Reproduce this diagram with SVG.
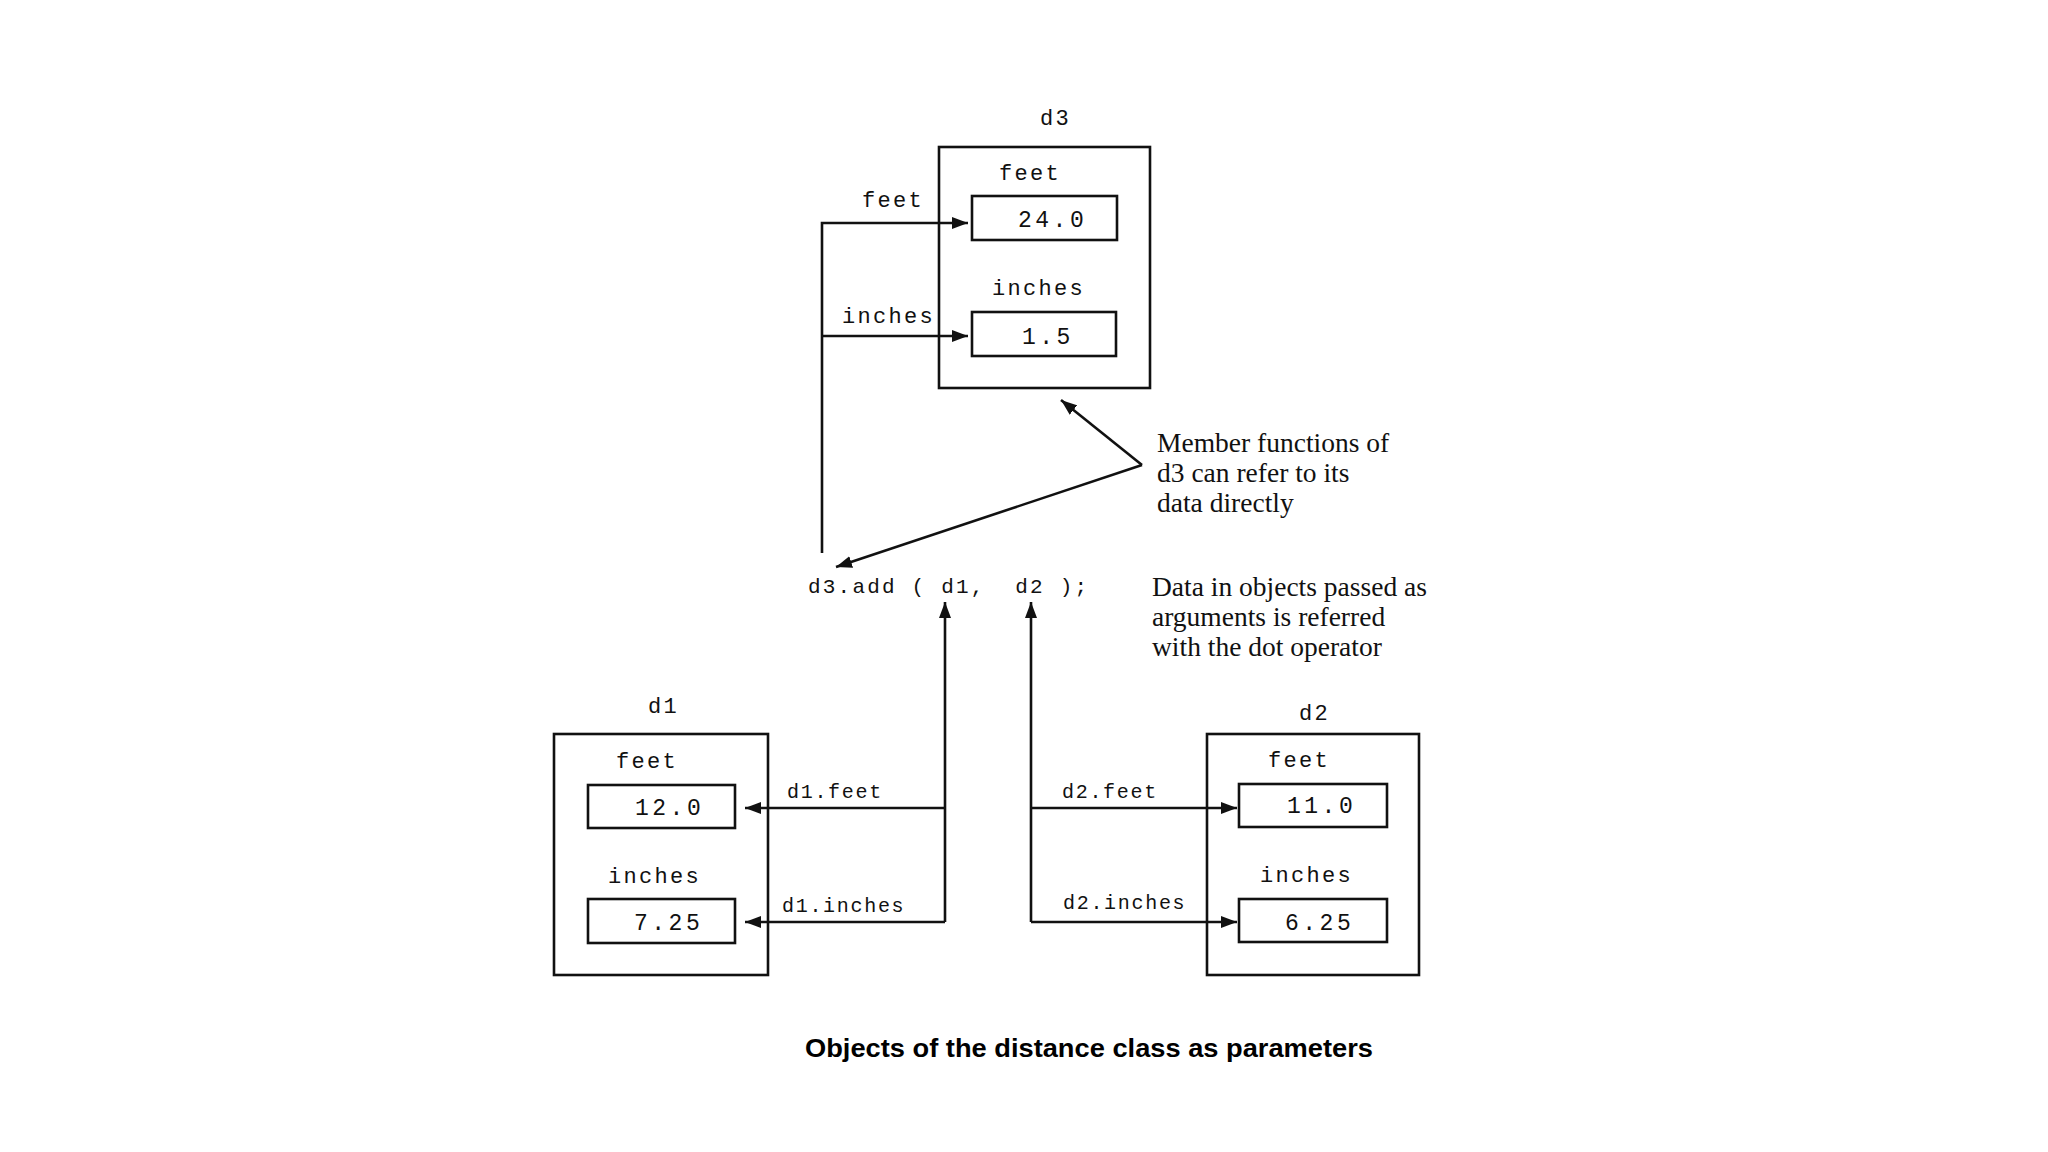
<svg xmlns="http://www.w3.org/2000/svg" width="2048" height="1152" viewBox="0 0 2048 1152">
  <style>
    .box { fill: none; stroke: #111; stroke-width: 2.6; }
    .line { fill: none; stroke: #111; stroke-width: 2.6; }
    .lbl { font-family: "Liberation Mono", "Courier New", monospace; font-size: 22px; letter-spacing: 2.3px; fill: #111; }
    .val { font-family: "Liberation Mono", "Courier New", monospace; font-size: 23px; letter-spacing: 3.5px; fill: #111; }
    .acc { font-family: "Liberation Mono", "Courier New", monospace; font-size: 20px; letter-spacing: 1.7px; fill: #111; }
    .code { font-family: "Liberation Mono", "Courier New", monospace; font-size: 21px; letter-spacing: 2.2px; fill: #111; }
    .note { font-family: "Liberation Serif", "Times New Roman", serif; font-size: 27.5px; fill: #111; }
    .title { font-family: "Liberation Sans", Arial, sans-serif; font-size: 26px; font-weight: bold; fill: #000; }
  </style>
  <defs>
    <marker id="arr" viewBox="0 0 16 12" refX="16" refY="6" markerWidth="16" markerHeight="12" markerUnits="userSpaceOnUse" orient="auto">
      <path d="M0,0 L16,6 L0,12 z" fill="#111"/>
    </marker>
  </defs>
  <rect width="2048" height="1152" fill="#fff"/>

  <g id="d3">
    <text class="lbl" x="1040" y="125">d3</text>
    <rect class="box" x="939" y="147" width="211" height="241"/>
    <text class="lbl" x="999" y="180">feet</text>
    <rect class="box" x="972" y="196" width="145" height="44"/>
    <text class="val" x="1018" y="227">24.0</text>
    <text class="lbl" x="992" y="295">inches</text>
    <rect class="box" x="972" y="312" width="144" height="44"/>
    <text class="val" x="1022" y="344">1.5</text>
  </g>

  <g id="d1">
    <text class="lbl" x="648" y="713">d1</text>
    <rect class="box" x="554" y="734" width="214" height="241"/>
    <text class="lbl" x="616" y="768">feet</text>
    <rect class="box" x="588" y="785" width="147" height="43"/>
    <text class="val" x="635" y="815">12.0</text>
    <text class="lbl" x="608" y="883">inches</text>
    <rect class="box" x="588" y="899" width="147" height="44"/>
    <text class="val" x="634" y="930">7.25</text>
  </g>

  <g id="d2">
    <text class="lbl" x="1299" y="720">d2</text>
    <rect class="box" x="1207" y="734" width="212" height="241"/>
    <text class="lbl" x="1268" y="767">feet</text>
    <rect class="box" x="1239" y="784" width="148" height="43"/>
    <text class="val" x="1287" y="813">11.0</text>
    <text class="lbl" x="1260" y="882">inches</text>
    <rect class="box" x="1239" y="899" width="148" height="43"/>
    <text class="val" x="1285" y="930">6.25</text>
  </g>

  <g id="call">
    <text class="code" x="808" y="593" xml:space="preserve">d3.add ( d1,  d2 );</text>
  </g>

  <g id="notes">
    <text class="note" x="1157" y="452">Member functions of</text>
    <text class="note" x="1157" y="482">d3 can refer to its</text>
    <text class="note" x="1157" y="512">data directly</text>
    <text class="note" x="1152" y="596">Data in objects passed as</text>
    <text class="note" x="1152" y="626">arguments is referred</text>
    <text class="note" x="1152" y="656">with the dot operator</text>
  </g>

  <g id="connectors">
    <path class="line" d="M822,553 V223 H968" marker-end="url(#arr)"/>
    <path class="line" d="M822,336 H968" marker-end="url(#arr)"/>
    <text class="lbl" x="862" y="207">feet</text>
    <text class="lbl" x="842" y="323">inches</text>

    <path class="line" d="M1142,465 L1061,400" marker-end="url(#arr)"/>
    <path class="line" d="M1142,465 L836,567" marker-end="url(#arr)"/>

    <path class="line" d="M945,922 V602" marker-end="url(#arr)"/>
    <path class="line" d="M945,808 H745" marker-end="url(#arr)"/>
    <path class="line" d="M945,922 H745" marker-end="url(#arr)"/>
    <text class="acc" x="787" y="798">d1.feet</text>
    <text class="acc" x="782" y="912">d1.inches</text>

    <path class="line" d="M1031,922 V602" marker-end="url(#arr)"/>
    <path class="line" d="M1031,808 H1237" marker-end="url(#arr)"/>
    <path class="line" d="M1031,922 H1237" marker-end="url(#arr)"/>
    <text class="acc" x="1062" y="798">d2.feet</text>
    <text class="acc" x="1063" y="909">d2.inches</text>
  </g>

  <text class="title" x="805" y="1057" textLength="568" lengthAdjust="spacingAndGlyphs">Objects of the distance class as parameters</text>
</svg>
